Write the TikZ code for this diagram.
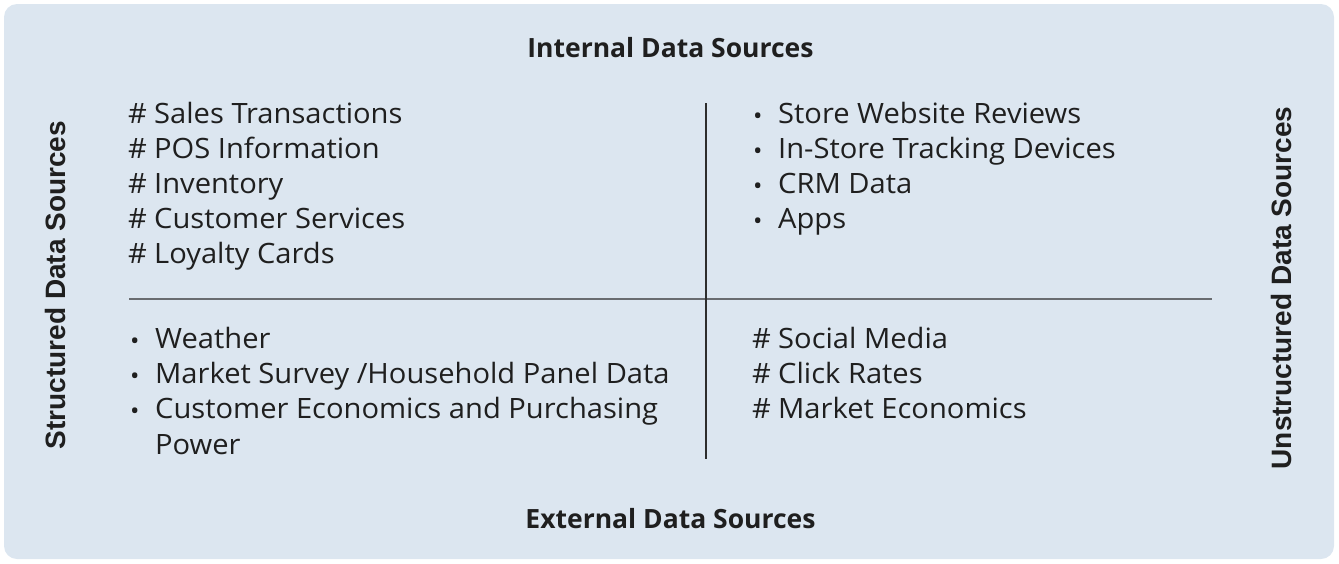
\documentclass[tikz,border=0pt]{standalone}
\usepackage{fontspec}
\setmainfont{Open Sans}[FakeStretch=1.04]
\newfontfamily\headfont{Open Sans}
\newfontfamily\sidefont{Liberation Sans}
\usepackage{tikz}
\definecolor{panelblue}{RGB}{220,230,240}
\definecolor{inktext}{RGB}{31,31,31}
\definecolor{rulegray}{RGB}{105,108,112}
\definecolor{ruledark}{RGB}{45,45,45}
\newcommand{\hashmark}{\makebox[26pt][l]{\#}}
\newcommand{\dotmark}{\makebox[22pt][l]{\hspace{-3pt}\raisebox{-1pt}{\fontsize{24}{24}\selectfont\textbullet}}}

\begin{document}
\begin{tikzpicture}[x=1pt, y=-1pt,
  item/.style = {inner sep=0pt, anchor=base west, text=inktext, font=\fontsize{28}{32}\selectfont},
  head/.style = {inner sep=0pt, anchor=base, text=inktext, font=\headfont\fontsize{26.5}{32}\selectfont\bfseries},
  side/.style = {inner sep=0pt, rotate=90, text=inktext, font=\sidefont\fontsize{28}{32}\selectfont\bfseries}]
  \useasboundingbox (0,0) rectangle (1339,563);
  \fill[panelblue, rounded corners=13pt] (4,4) rectangle (1334,559);

  % headings
  \node[head] (internal) at (670.5,57) {Internal Data Sources};
  \node[head] (external) at (670.5,528) {External Data Sources};
  \node[side] (structured) at (55,285) {Structured Data Sources};
  \node[side] (unstructured) at (1281,288) {Unstructured Data Sources};

  % dividing lines
  \coordinate (vtop) at (706,103);
  \coordinate (vbot) at (706,459);
  \coordinate (hleft) at (129,299);
  \coordinate (hright) at (1212,299);
  \draw[rulegray, line width=2pt] (hleft) -- (hright);
  \draw[ruledark, line width=1.5pt] (vtop) -- (vbot);

  % internal, structured
  \foreach \txt [count=\i] in {Sales Transactions, POS Information, Inventory, Customer Services, Loyalty Cards}
    \node[item] (tl\i) at (128,{123+35.2*(\i-1)}) {\hashmark\txt};
  % internal, unstructured
  \foreach \txt [count=\i] in {Store Website Reviews, In-Store Tracking Devices, CRM Data, Apps}
    \node[item] (tr\i) at (756,{123+35.2*(\i-1)}) {\dotmark\txt};
  % external, structured
  \foreach \txt [count=\i] in {Weather, Market Survey /Household Panel Data, Customer Economics and Purchasing}
    \node[item] (bl\i) at (133,{348+35.3*(\i-1)}) {\dotmark\txt};
  \node[item] (bl4) at (155,454) {Power};
  % external, unstructured
  \foreach \txt [count=\i] in {Social Media, Click Rates, Market Economics}
    \node[item] (br\i) at (752,{348+35.2*(\i-1)}) {\hashmark\txt};
\end{tikzpicture}
\end{document}
